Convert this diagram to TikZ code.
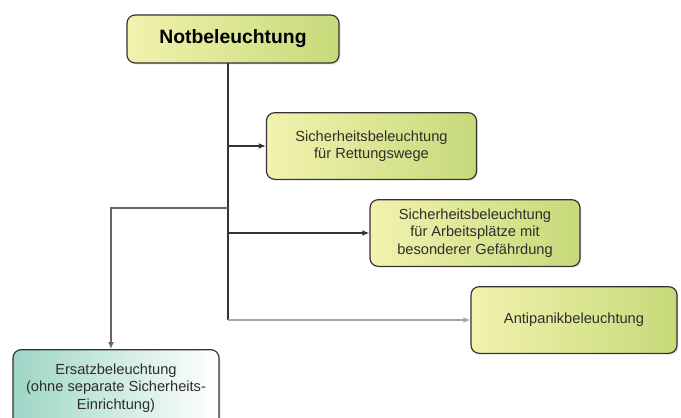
\documentclass[tikz,border=0pt]{standalone}
\usepackage{fontspec}
\setmainfont{Liberation Sans}
\usetikzlibrary{arrows.meta,shadows}

\definecolor{boxline}{HTML}{333333}
\definecolor{textgray}{HTML}{2E2E2E}
\definecolor{lightyel}{HTML}{F2F2AE}
\definecolor{darkyel}{HTML}{C6DA7A}
\definecolor{teal1}{HTML}{9ED6C6}

\begin{document}
\begin{tikzpicture}[x=0.03cm,y=-0.03cm]
    \tikzset{
    box/.style={
        draw=boxline, line width=1pt, rounded corners=7pt,
        left color=lightyel, right color=darkyel,
        text=textgray, align=center,
        font=\fontsize{12.5}{15}\selectfont,
        drop shadow={opacity=0.25, shadow xshift=1.2pt, shadow yshift=-1.2pt},
        minimum width=6.3cm, minimum height=2cm, inner sep=2pt
    },
    link/.style={draw=boxline, line width=1.2pt, -{Latex[length=6pt,width=5pt]}}
    }
        \useasboundingbox (0,0) rectangle (681,417);

        \node (nb)[box, minimum width=6.36cm, minimum height=1.44cm,
            font=\fontsize{16.5}{18}\selectfont\bfseries, text=black] at (233,39) {Notbeleuchtung};
        \node (rw)[box] at (371.5,146) {Sicherheitsbeleuchtung\\für Rettungswege};
        \node (ap)[box] at (475,233) {Sicherheitsbeleuchtung\\für Arbeitsplätze mit\\besonderer Gefährdung};
        \node (ab)[box, minimum width=6.18cm] at (574,320) {Antipanikbeleuchtung};
        \node (eb)[box, minimum width=6.18cm, minimum height=2.3cm,
            left color=teal1, right color=white] at (116,388)
            {Ersatzbeleuchtung\\(ohne separate Sicherheits-\\Einrichtung)};

        \coordinate (top) at (228,63);
        \coordinate (split) at (228,208);
        \coordinate (bot) at (228,320);

        \draw[boxline, line width=1.2pt] (top) -- (bot);
        \draw[link] (top |- rw.west) -- (rw.west);
        \draw[link] (top |- ap.west) -- (ap.west);
        \draw[link, draw=gray!70] (bot) -- (ab.west);
        \draw[link, draw=gray!80!black] (split) -| (eb.north -| 111,0);

    \end{tikzpicture}
\end{document}
